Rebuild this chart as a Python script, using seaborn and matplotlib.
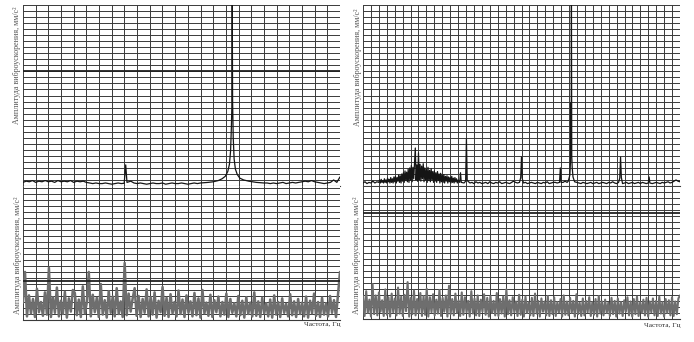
import numpy as np
import pandas as pd
import matplotlib
matplotlib.use("Agg")
import matplotlib.pyplot as plt
import seaborn as sns

# ---- data (grid units: 1 = one grid cell) ----
# left spectrum, top: baseline samples over 0..25 columns (step 0.25)
lt_base = [0.6, 0.8, 0.7, 0.9, 0.6, 0.8, 0.7, 0.9, 0.7, 0.8, 0.6, 0.9, 0.7, 0.8, 0.7, 0.9,
           0.6, 0.8, 0.7, 0.8, 0.6, 0.5, 0.4, 0.5, 0.4, 0.4, 0.5, 0.4, 0.3, 0.4, 0.5, 0.4,
           0.4, 0.7, 0.8, 0.5, 0.4, 0.5, 0.4, 0.3, 0.4, 0.5, 0.4, 0.4, 0.5, 0.3, 0.4, 0.5,
           0.4, 0.4, 0.5, 0.4, 0.3, 0.4, 0.5, 0.4, 0.5, 0.5, 0.5, 0.5, 0.5, 0.5, 0.5, 0.5,
           0.5, 0.5, 0.5, 0.5, 0.5, 0.5, 0.5, 0.5, 0.5, 0.5, 0.5, 0.5, 0.5, 0.5, 0.4, 0.5,
           0.4, 0.5, 0.6, 0.4, 0.5, 0.6, 0.5, 0.6, 0.7, 0.8, 0.7, 0.9, 0.7, 0.6, 0.5, 0.4,
           0.5, 0.6, 1.0, 0.6, 1.5]
lt_peak_f = [7.98, 8.1, 8.2,
             14.0, 14.6, 15.0, 15.4, 15.7, 15.95, 16.15, 16.28, 16.37, 16.43, 16.47, 16.5,
             16.53, 16.58, 16.65, 16.75, 16.9, 17.1, 17.4, 17.8, 18.4, 19.0]
lt_peak_a = [0.45, 3.5, 0.6,
             0.5, 0.6, 0.7, 0.9, 1.2, 1.6, 2.4, 3.6, 5.8, 9.5, 13.0, 31.0,
             14.0, 8.0, 4.5, 2.8, 1.9, 1.3, 1.0, 0.8, 0.6, 0.5]

# right spectrum, top: baseline over 0..40 columns (step 0.25)
rt_base = [0.5, 0.7, 0.4, 0.6, 0.5, 0.8, 0.5, 0.7, 0.6, 0.5, 0.6, 0.4, 0.7, 0.5, 0.6, 0.5, 0.4, 0.6, 0.5, 0.7,
           0.5, 0.6, 0.4, 0.7, 0.5, 0.6, 0.4, 0.5, 0.6, 0.4, 0.7, 0.5, 0.4, 0.6, 0.5, 0.7, 0.4, 0.5, 0.6, 0.5,
           0.6, 0.7, 0.5, 0.6, 0.8, 0.6, 0.7, 0.5, 0.6, 0.9, 0.6, 0.5, 0.7, 0.6, 0.5, 0.6, 0.4, 0.7, 0.5, 0.6,
           0.4, 0.5, 0.6, 0.4, 0.7, 0.5, 0.4, 0.6, 0.5, 0.7, 0.4, 0.5, 0.6, 0.5, 0.4, 0.6, 0.8, 0.6, 0.5, 0.6,
           0.7, 0.5, 0.6, 0.4, 0.5, 0.6, 0.5, 0.4, 0.6, 0.5, 0.4, 0.6, 0.5, 0.7, 0.4, 0.5, 0.6, 0.6, 0.5, 0.7,
           0.5, 0.6, 0.8, 0.6, 0.6, 0.7, 0.5, 0.4, 0.6, 0.5, 0.4, 0.6, 0.5, 0.4, 0.5, 0.6, 0.4, 0.5, 0.6, 0.4,
           0.5, 0.6, 0.5, 0.4, 0.6, 0.5, 0.7, 0.5, 0.4, 0.6, 0.5, 0.4, 0.5, 0.6, 0.4, 0.5, 0.6, 0.4, 0.5, 0.6,
           0.4, 0.6, 0.5, 0.4, 0.5, 0.6, 0.4, 0.5, 0.6, 0.5, 0.4, 0.6, 0.5, 0.6, 0.7, 0.5, 0.6, 0.8, 1.0, 0.8,
           0.7]
# broad low-frequency hump, columns 2..12 (step 0.1)
rt_hump = [0.6, 1.0, 0.5, 1.1, 0.6, 0.9, 0.5, 1.2, 0.6, 1.0,
           0.5, 1.3, 0.7, 1.1, 0.5, 1.4, 0.6, 1.2, 0.5, 1.5,
           0.7, 1.6, 0.5, 1.4, 0.8, 1.8, 0.6, 1.7, 0.5, 2.0,
           0.8, 2.2, 0.6, 2.5, 0.9, 2.3, 0.7, 2.8, 0.6, 3.0,
           1.0, 3.4, 0.7, 3.1, 1.2, 3.8, 6.3, 1.0, 3.5, 0.8,
           5.5, 1.1, 3.6, 0.8, 3.3, 1.2, 3.7, 0.7, 3.0, 1.0,
           2.8, 0.6, 3.1, 0.9, 2.6, 0.7, 2.9, 1.0, 2.4, 0.6,
           2.5, 0.8, 2.2, 0.6, 2.4, 0.9, 2.0, 0.5, 2.1, 0.7,
           1.8, 0.6, 1.9, 0.5, 1.6, 0.8, 1.7, 0.5, 1.5, 0.7,
           1.4, 0.5, 1.6, 0.6, 1.3, 0.5, 1.4, 0.7, 1.2, 0.5,
           1.0]
# narrow lines on the right spectrum
rt_peak_f = [12.2, 12.3, 12.4,
             12.95, 13.05, 13.15,
             19.9, 20.0, 20.1,
             24.8, 24.9, 25.0,
             25.9, 26.1, 26.18, 26.23, 26.27, 26.3, 26.34, 26.4, 26.5, 26.7,
             32.4, 32.5, 32.6,
             36.0, 36.1, 36.2]
rt_peak_a = [0.6, 2.2, 0.6,
             0.8, 7.8, 0.9,
             1.4, 4.8, 1.2,
             0.6, 3.0, 0.6,
             0.8, 1.8, 4.0, 13.8, 6.0, 31.0, 5.0, 3.0, 1.5, 0.7,
             1.3, 4.8, 1.4,
             0.5, 1.5, 0.5]

# noise records, bottom
lb_noise = [2.9, 8.0, 0.6, 4.1, 1.1, 3.5, 0.5, 5.2, 1.3, 3.0, 0.7, 4.6, 0.9, 8.7, 0.5, 3.8, 1.2, 5.4, 0.6, 3.2,
            1.0, 4.7, 0.4, 3.6, 1.4, 5.0, 4.5, 0.8, 3.4, 0.5, 5.6, 1.1, 2.9, 8.0, 0.6, 4.2, 1.3, 3.7, 0.5, 6.0,
            0.9, 3.3, 0.4, 4.8, 1.2, 3.9, 0.6, 5.3, 1.0, 3.1, 0.5, 9.5, 0.8, 4.4, 1.4, 3.6, 5.3, 0.7, 4.0, 0.5,
            3.5, 1.2, 5.1, 0.6, 3.8, 0.9, 4.6, 0.4, 3.2, 1.3, 5.5, 0.7, 3.7, 0.5, 4.3, 1.1, 3.0, 0.6, 4.9, 1.0,
            3.4, 0.5, 4.1, 1.2, 3.1, 0.6, 4.5, 0.8, 3.6, 0.4, 5.0, 1.1, 2.9, 0.7, 4.2, 0.5, 3.3, 1.3, 3.9, 0.6,
            3.0, 0.9, 4.4, 0.5, 3.5, 1.2, 2.8, 0.6, 4.0, 0.8, 3.2, 0.4, 3.8, 1.0, 2.9, 0.6, 4.6, 0.7, 3.1, 0.5,
            3.7, 1.1, 2.8, 0.6, 3.4, 0.4, 4.1, 0.9, 3.0, 0.5, 3.6, 1.2, 2.7, 0.6, 4.3, 0.8, 3.1, 0.5, 3.5, 1.0,
            2.9, 0.6, 3.9, 0.4, 3.2, 1.1, 4.4, 0.7, 3.0, 0.5, 3.7, 0.9, 2.8, 0.6, 4.0, 1.2, 3.3, 0.5, 4.2, 8.0]
rb_noise = [3.8, 0.5, 4.6, 1.0, 3.2, 0.4, 5.8, 0.8, 3.9, 0.6, 4.4, 1.2, 3.1, 0.5, 4.9, 0.7, 3.6, 0.4, 4.2, 1.1,
            3.4, 0.6, 5.2, 0.9, 3.7, 0.5, 4.0, 1.3, 6.1, 0.4, 3.5, 0.8, 4.7, 0.6, 3.3, 1.0, 4.3, 0.5, 3.8, 0.7,
            5.0, 0.4, 3.6, 1.1, 4.1, 0.6, 3.2, 0.9, 4.8, 0.5, 3.5, 1.2, 3.9, 0.4, 5.5, 0.8, 3.3, 0.6, 4.2, 1.0,
            3.1, 0.5, 4.4, 0.7, 3.6, 1.1, 3.0, 0.4, 4.6, 0.9, 3.4, 0.6, 3.9, 0.5, 3.2, 1.2, 4.1, 0.7, 3.5, 0.4,
            3.8, 1.0, 3.0, 0.6, 4.3, 0.5, 3.3, 0.9, 3.7, 0.4, 4.9, 0.8, 3.1, 0.6, 3.6, 1.1, 2.9, 0.5, 4.0, 0.7,
            3.2, 0.4, 3.7, 1.0, 2.8, 0.6, 3.5, 0.5, 4.2, 0.9, 3.0, 0.4, 3.4, 1.2, 2.9, 0.6, 3.8, 0.5, 3.1, 0.8,
            3.6, 0.5, 2.8, 1.1, 3.3, 0.4, 3.9, 0.7, 2.9, 0.6, 3.5, 1.0, 3.0, 0.4, 4.1, 0.8, 2.7, 0.5, 3.4, 0.6,
            3.0, 1.1, 3.6, 0.5, 2.8, 0.7, 3.3, 0.4, 3.8, 0.9, 2.9, 0.6, 3.2, 1.0, 2.7, 0.5, 3.5, 0.8, 3.0, 0.4,
            3.4, 0.9, 2.8, 0.5, 3.1, 1.2, 3.6, 0.6, 2.9, 0.4, 3.3, 0.8, 3.7, 0.5, 2.8, 1.0, 3.2, 0.6, 3.5, 0.4,
            2.9, 1.1, 3.4, 0.6, 3.0, 0.5, 3.7, 0.9, 2.8, 0.4, 3.3, 1.0, 3.1, 0.6, 3.6, 0.5, 2.9, 0.8, 3.4, 3.9]

ylab = "Амплитуда виброускорения, мм/с²"
xlab = "Частота, Гц"


def spectrum(base, ncols, extra, gaps):
    f = np.linspace(0, ncols, len(base))
    df = pd.DataFrame({"f": f, "a": base})
    for lo, hi in gaps:
        df = df[(df.f < lo) | (df.f > hi)]
    parts = [df] + [pd.DataFrame({"f": ef, "a": ea}) for ef, ea in extra]
    return pd.concat(parts).sort_values("f").reset_index(drop=True)


sns.set_style("white")
plt.rcParams["font.family"] = ["Liberation Serif", "DejaVu Serif"]

fig = plt.figure(figsize=(6.94, 3.42), dpi=100)
W, H = 694, 342


def box(x0, x1, y0, y1):
    return [x0 / W, 1 - y1 / H, (x1 - x0) / W, (y1 - y0) / H]


gridc = "#3a3a3a"


def style(ax, ncols, nrows, ytop):
    ax.set_xlim(0, ncols)
    ax.set_ylim(0, ytop)
    ax.set_xticks(np.arange(0, ncols + 1))
    ax.set_yticks(np.arange(0, nrows + 1))
    ax.set_xticklabels([])
    ax.set_yticklabels([])
    ax.tick_params(length=0)
    ax.grid(True, color=gridc, lw=0.7)
    ax.set_axisbelow(True)
    for s in ax.spines.values():
        s.set_visible(False)
    ax.spines["bottom"].set_visible(True)
    ax.spines["bottom"].set_color(gridc)
    ax.spines["bottom"].set_linewidth(0.8)
    ax.set_xlabel("")
    ax.set_ylabel("")


# left column
ax1 = fig.add_axes(box(23, 340, 5, 186))
d = spectrum(lt_base, 25, [(lt_peak_f, lt_peak_a)], [(7.9, 8.3), (13.9, 19.1)])
sns.lineplot(data=d, x="f", y="a", ax=ax1, color="#151515", lw=0.9, estimator=None)
style(ax1, 25, 30, 30)
ax1.axhline(19, color="#222222", lw=1.3)

ax2 = fig.add_axes(box(23, 340, 186, 320))
sns.lineplot(x=np.linspace(0, 25, len(lb_noise)), y=lb_noise, ax=ax2,
             color="#6e6e6e", lw=1.8, estimator=None)
style(ax2, 25, 22, 22.3)
ax2.axhline(6.5, color="#222222", lw=1.3)

# right column
ax3 = fig.add_axes(box(363, 680, 5, 186))
hump_f = np.linspace(2, 12, len(rt_hump))
gaps = [(1.95, 12.05)] + [(f - 0.12, f + 0.12) for f in rt_peak_f]
d = spectrum(rt_base, 40, [(hump_f, rt_hump), (rt_peak_f, rt_peak_a)], gaps)
sns.lineplot(data=d, x="f", y="a", ax=ax3, color="#151515", lw=0.9, estimator=None)
style(ax3, 40, 30, 30)

ax4 = fig.add_axes(box(363, 680, 186, 319))
sns.lineplot(x=np.linspace(0, 40, len(rb_noise)), y=rb_noise, ax=ax4,
             color="#6e6e6e", lw=1.5, estimator=None)
style(ax4, 40, 22, 22)
ax4.axhline(17.5, color="#222222", lw=1.3)

# labels
lab = dict(rotation=90, ha="center", va="top", fontsize=5.8, color="#555555")
fig.text(17 / W, 1 - 6 / H, ylab, **lab)
fig.text(18 / W, 1 - 196 / H, ylab, **lab)
fig.text(358 / W, 1 - 8 / H, ylab, **lab)
fig.text(357 / W, 1 - 197 / H, ylab, **lab)
fig.text(340 / W, 1 - 322 / H, xlab, ha="right", va="top", fontsize=5.3, color="#333333")
fig.text(680 / W, 1 - 323 / H, xlab, ha="right", va="top", fontsize=5.3, color="#333333")

fig.savefig("out.png", dpi=100, facecolor="white")
